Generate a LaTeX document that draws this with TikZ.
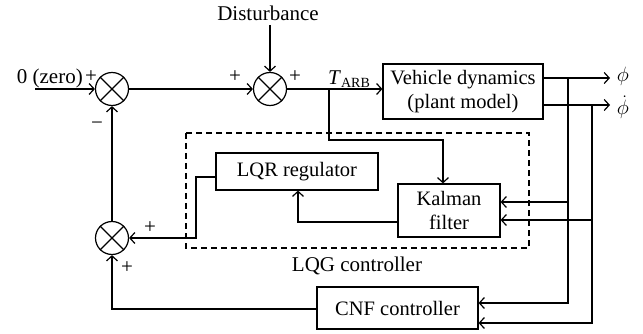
\documentclass[tikz,border=0pt]{standalone}
\usepackage{fontspec}
\setmainfont{Liberation Serif}
\usetikzlibrary{arrows.meta,calc}
\tikzset{
  lbl/.style={font=\fontsize{21}{24}\selectfont, inner sep=0pt},
  blk/.style={draw, line width=1.2pt, inner sep=0pt, font=\fontsize{20.5}{24}\selectfont, align=center},
  sumc/.style={draw, line width=1.2pt, circle, minimum size=33pt, inner sep=0pt},
  conn/.style={line width=1.2pt},
  arr/.style={line width=1.2pt, -{Straight Barb[length=5pt,width=11pt,line width=1.2pt]}},
}
\newcommand{\crosssum}[1]{%
  \draw[line width=1.2pt] (#1.45) -- (#1.225) (#1.135) -- (#1.315);}
\begin{document}
\begin{tikzpicture}[x=1pt,y=-1pt]
\useasboundingbox (0,0) rectangle (643,334);
% summing junctions
\node[sumc] (s1) at (112,89) {};
\node[sumc] (s2) at (270,89) {};
\node[sumc] (s3) at (112,238) {};
\crosssum{s1}\crosssum{s2}\crosssum{s3}
% blocks
\node[blk, minimum width=160pt, minimum height=55pt] (veh) at (463,91.5) {Vehicle dynamics\\(plant model)};
\node[blk, minimum width=162pt, minimum height=37pt] (lqr) at (297,171.5) {LQR regulator};
\node[blk, minimum width=102pt, minimum height=53pt] (kal) at (449,210.5) {Kalman\\filter};
\node[blk, minimum width=161pt, minimum height=42pt] (cnf) at (397.5,308) {CNF controller};
% dashed LQG box
\draw[line width=1.2pt, dash pattern=on 6pt off 4pt] (186,133) rectangle (529,248);
\node[lbl] (lqg) at (357,266) {LQG controller};
% texts
\node[lbl, anchor=east] (zero) at (83,78) {0 (zero)};
\node[lbl] (dist) at (268,13) {Disturbance};
\node[lbl] (tarb) at (349,79) {\textit{T}{\fontsize{14}{14}\selectfont\raisebox{-3pt}{ARB}}};
\node[lbl] (phi) at (623,76) {$\phi$};
\node[lbl] (phid) at (623,107) {$\dot\phi$};
% signs
\node[lbl] (p1) at (91,77) {+};
\node[lbl] (m1) at (97,126) {\textminus};
\node[lbl] (p2) at (235,77) {+};
\node[lbl] (p3) at (295,77) {+};
\node[lbl] (p4) at (150,228) {+};
\node[lbl] (p5) at (127,268) {+};
% coordinates
\coordinate (in) at (35,89);
\coordinate (dtop) at (270,25);
\coordinate (tap) at (329,89);
\coordinate (tap2) at (329,140);
\coordinate (tap3) at (443,140);
\coordinate (phiend) at (610,78);
\coordinate (phidend) at (610,105);
\coordinate (b1) at (568,78);
\coordinate (b1d) at (568,303);
\coordinate (b2) at (592,105);
\coordinate (b2d) at (592,323);
\coordinate (kl) at (298,222);
\coordinate (lq1) at (196,177);
\coordinate (lq2) at (196,238);
\coordinate (cn) at (112,309);
% connectors
\draw[arr] (in) -- (s1.west);
\draw[arr] (s1.east) -- (s2.west);
\draw[arr] (dtop) -- (s2.north);
\draw[arr] (s2.east) -- (s2.east -| veh.west);
\draw[arr] (tap) -- (tap2) -- (tap3) -- (tap3 |- kal.north);
\draw[arr] (veh.east |- phiend) -- (phiend);
\draw[arr] (veh.east |- phidend) -- (phidend);
\draw[arr] (b1) -- (b1d) -- (b1d -| cnf.east);
\draw[arr] (b1 |- 0,202) -- (kal.east |- 0,202);
\draw[arr] (b2) -- (b2d) -- (b2d -| cnf.east);
\draw[arr] (b2 |- 0,220) -- (kal.east |- 0,220);
\draw[arr] (kal.west |- kl) -- (kl) -- (kl |- lqr.south);
\draw[arr] (lqr.west |- lq1) -- (lq1) -- (lq2) -- (s3.east);
\draw[arr] (s3.north) -- (s1.south);
\draw[arr] (cnf.west |- cn) -- (cn) -- (s3.south);
\end{tikzpicture}
\end{document}
